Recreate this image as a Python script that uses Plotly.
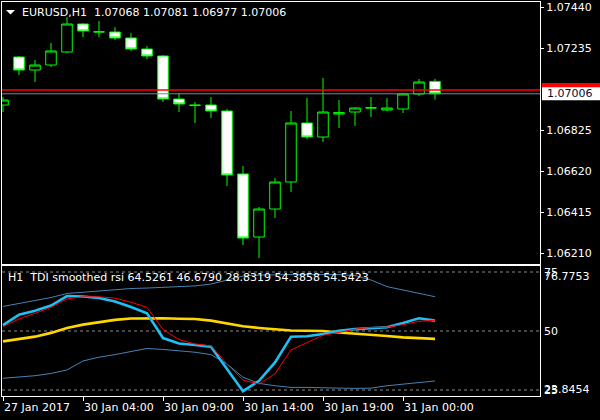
import plotly.graph_objects as go

# ---------------- data ----------------
bar_times = ["27 Jan 23:00"] + [f"30 Jan {h:02d}:00" for h in range(24)] + ["31 Jan 00:00", "31 Jan 01:00", "31 Jan 02:00"]
open_ = [1.06950, 1.07190, 1.07125, 1.07150, 1.07215, 1.07355, 1.07315, 1.07315, 1.07285, 1.07230,
         1.07195, 1.06980, 1.06950, 1.06950, 1.06920, 1.06605, 1.06290, 1.06430, 1.06565, 1.06860,
         1.06790, 1.06905, 1.06915, 1.06935, 1.06925, 1.06930, 1.07005, 1.07068]
high = [1.06990, 1.07195, 1.07175, 1.07260, 1.07390, 1.07360, 1.07370, 1.07340, 1.07310, 1.07245,
        1.07200, 1.07010, 1.06965, 1.06990, 1.06930, 1.06645, 1.06440, 1.06585, 1.06920, 1.06985,
        1.07085, 1.06975, 1.06940, 1.06990, 1.06985, 1.07010, 1.07080, 1.07081]
low = [1.06915, 1.07100, 1.07065, 1.07140, 1.07210, 1.07290, 1.07290, 1.07275, 1.07220, 1.07180,
       1.06965, 1.06915, 1.06860, 1.06885, 1.06545, 1.06250, 1.06185, 1.06385, 1.06515, 1.06780,
       1.06765, 1.06835, 1.06845, 1.06890, 1.06920, 1.06910, 1.06995, 1.06977]
close = [1.06975, 1.07125, 1.07150, 1.07220, 1.07355, 1.07320, 1.07316, 1.07285, 1.07230, 1.07195,
         1.06980, 1.06955, 1.06948, 1.06920, 1.06600, 1.06285, 1.06430, 1.06565, 1.06860, 1.06790,
         1.06915, 1.06912, 1.06935, 1.06936, 1.06935, 1.07005, 1.07065, 1.07006]

tdi_upper = [60.4, 61.7, 62.9, 64.2, 65.9, 66.5, 66.9, 67.4, 68.0, 68.2, 68.4, 68.6, 69.1, 69.9,
             71.6, 73.3, 73.7, 73.9, 73.9, 73.9, 73.9, 73.9, 73.5, 71.6, 68.8, 67.4, 66.0, 64.5261]
tdi_lower = [29.96, 30.5, 31.06, 32.0, 33.5, 37.3, 38.9, 40.0, 41.4, 42.6, 42.2, 41.7, 41.0, 40.0,
             36.0, 30.4, 27.8, 26.8, 26.1, 26.1, 26.1, 25.8, 25.7, 25.8, 26.8, 27.5, 28.1, 28.8319]
tdi_middle = [45.6, 46.5, 47.6, 49.2, 51.3, 52.7, 53.7, 54.7, 55.3, 55.4, 55.4, 55.2, 55.1, 54.4,
              53.3, 52.0, 51.3, 50.6, 50.2, 50.1, 50.0, 49.4, 49.0, 48.4, 47.9, 47.3, 46.9, 46.6790]
tdi_rsi = [52.5, 56.9, 58.6, 60.8, 64.8, 64.6, 64.0, 62.5, 60.2, 57.5, 47.0, 44.7, 44.1, 43.3,
           33.9, 24.5, 28.9, 36.7, 47.6, 47.8, 48.7, 50.1, 50.8, 51.3, 51.6, 53.4, 55.4, 54.3858]
tdi_signal = [51.8, 55.1, 57.5, 60.0, 63.6, 64.5, 64.5, 63.9, 62.2, 60.0, 50.6, 46.4, 44.5, 43.7,
              36.0, 29.2, 27.5, 31.9, 42.0, 45.1, 48.2, 49.4, 50.8, 51.5, 51.6, 52.7, 54.1, 54.5423]

price_ticks = [1.07440, 1.07235, 1.06825, 1.06620, 1.06415, 1.06210]
tdi_levels = [75, 50, 25]
tdi_max_label = "76.7753"
tdi_min_label = "23.8454"
time_tick_idx = [0, 5, 10, 15, 20, 25]
time_tick_labels = ["27 Jan 2017", "30 Jan 04:00", "30 Jan 09:00", "30 Jan 14:00", "30 Jan 19:00", "31 Jan 00:00"]
bid_price = 1.07006
red_line_price = 1.07025
header_text = "EURUSD,H1  1.07068 1.07081 1.06977 1.07006"
tdi_header = "H1  TDI smoothed rsi 64.5261 46.6790 28.8319 54.3858 54.5423"

# ---------------- figure ----------------
x = list(range(len(open_)))
FONT = "DejaVu Sans"
W, H = 600, 420
ML, MR, MT, MB = 2, 60, 2, 24
PW = W - ML - MR
PH = H - MT - MB

def px_x(p):
    return (p - ML) / PW

def px_y(p):
    return (H - MB - p) / PH

fig = go.Figure()

fig.add_trace(go.Candlestick(
    x=x, open=open_, high=high, low=low, close=close, text=bar_times,
    increasing=dict(line=dict(color="#00FF00", width=1), fillcolor="#000000"),
    decreasing=dict(line=dict(color="#00FF00", width=1), fillcolor="#FFFFFF"),
    whiskerwidth=0, xaxis="x", yaxis="y", showlegend=False, name="EURUSD,H1"))

band_col = "#4682B4"
fig.add_trace(go.Scatter(x=x, y=tdi_upper, mode="lines", line=dict(color=band_col, width=1),
                         xaxis="x2", yaxis="y2", showlegend=False))
fig.add_trace(go.Scatter(x=x, y=tdi_lower, mode="lines", line=dict(color=band_col, width=1),
                         xaxis="x2", yaxis="y2", showlegend=False))
fig.add_trace(go.Scatter(x=x, y=tdi_middle, mode="lines", line=dict(color="#FFD700", width=2.6),
                         xaxis="x2", yaxis="y2", showlegend=False))
fig.add_trace(go.Scatter(x=x, y=tdi_rsi, mode="lines", line=dict(color="#1EBFF5", width=2.6),
                         xaxis="x2", yaxis="y2", showlegend=False))
fig.add_trace(go.Scatter(x=x, y=tdi_signal, mode="lines", line=dict(color="#FF0000", width=1),
                         xaxis="x2", yaxis="y2", showlegend=False))

xr = [-(3 - ML) / 16.0, -(3 - ML) / 16.0 + PW / 16.0]
main_dom = [px_y(264), 1]
ind_dom = [0, px_y(266)]

axis_common = dict(showgrid=False, zeroline=False, showline=True, linecolor="#FFFFFF",
                   linewidth=1, mirror=True)

fig.update_layout(
    width=W, height=H,
    margin=dict(l=ML, r=MR, t=MT, b=MB),
    paper_bgcolor="#000000", plot_bgcolor="#000000",
    font=dict(family=FONT, size=11, color="#FFFFFF"),
    boxgap=0.34, boxgroupgap=0,
    xaxis=dict(domain=[0, 1], anchor="y", range=xr, showticklabels=False, ticks="",
               rangeslider=dict(visible=False), **axis_common),
    yaxis=dict(domain=main_dom, anchor="x", side="right",
               range=[1.07475 - 264 * 0.00005, 1.07475 - 2 * 0.00005],
               tickvals=price_ticks, ticktext=[f"{v:.5f}" for v in price_ticks],
               ticks="outside", ticklen=3, tickcolor="#FFFFFF",
               tickfont=dict(family=FONT, size=11, color="#FFFFFF"), **axis_common),
    xaxis2=dict(domain=[0, 1], anchor="y2", range=xr, showticklabels=False,
                tickvals=time_tick_idx, ticks="outside", ticklen=4, tickcolor="#FFFFFF",
                **axis_common),
    yaxis2=dict(domain=ind_dom, anchor="x2", side="right",
                range=[50 - 65 / 2.36, 50 + 65 / 2.36],
                showticklabels=False, ticks="", **axis_common),
    hovermode=False,
)

# level lines in TDI window
for lv in tdi_levels:
    fig.add_shape(type="line", xref="x2 domain", yref="y2", x0=0, x1=1, y0=lv, y1=lv,
                  line=dict(color="#8A8A8A", width=1, dash="3px,3px"), layer="below")

# bid line and red line
fig.add_shape(type="line", xref="x domain", yref="y", x0=0, x1=1, y0=bid_price, y1=bid_price,
              line=dict(color="#778899", width=1))
fig.add_shape(type="line", xref="x domain", yref="y", x0=0, x1=1, y0=red_line_price, y1=red_line_price,
              line=dict(color="#FF0000", width=1.6))

# price label boxes on the right scale
fig.add_shape(type="rect", xref="paper", yref="y", x0=px_x(542), x1=px_x(600),
              y0=1.07028 - 0.000325, y1=1.07028 + 0.000325,
              fillcolor="#FF0000", line=dict(width=0), layer="above")
fig.add_shape(type="rect", xref="paper", yref="y", x0=px_x(542), x1=px_x(600),
              y0=bid_price - 0.000325, y1=bid_price + 0.000325,
              fillcolor="#FFFFFF", line=dict(width=0), layer="above")
fig.add_annotation(xref="paper", yref="y", x=px_x(545), y=bid_price, text=f"{bid_price:.5f}",
                   showarrow=False, xanchor="left", yanchor="middle",
                   font=dict(family=FONT, size=11, color="#0A0A30"))

# header triangle and texts
fig.add_shape(type="path", xref="paper", yref="paper",
              path=f"M {px_x(6)} {px_y(10)} L {px_x(15)} {px_y(10)} L {px_x(10.5)} {px_y(14.5)} Z",
              fillcolor="#FFFFFF", line=dict(width=0))
fig.add_annotation(xref="paper", yref="paper", x=px_x(20), y=px_y(12.5), text=header_text,
                   showarrow=False, xanchor="left", yanchor="middle",
                   font=dict(family=FONT, size=11, color="#FFFFFF"))
fig.add_annotation(xref="paper", yref="paper", x=px_x(6), y=px_y(277), text=tdi_header,
                   showarrow=False, xanchor="left", yanchor="middle",
                   font=dict(family=FONT, size=11, color="#FFFFFF"))

# TDI scale labels (the window max/min labels overlap the 75/25 level labels, as in MT4)
for lv in tdi_levels:
    fig.add_annotation(xref="paper", yref="y2", x=px_x(542), y=lv, text=str(lv),
                       showarrow=False, xanchor="left", yanchor="middle",
                       font=dict(family=FONT, size=11, color="#FFFFFF"))
fig.add_annotation(xref="paper", yref="paper", x=px_x(542), y=px_y(276), text=tdi_max_label,
                   showarrow=False, xanchor="left", yanchor="middle",
                   font=dict(family=FONT, size=11, color="#FFFFFF"))
fig.add_annotation(xref="paper", yref="paper", x=px_x(542), y=px_y(389), text=tdi_min_label,
                   showarrow=False, xanchor="left", yanchor="middle",
                   font=dict(family=FONT, size=11, color="#FFFFFF"))

# time labels (left-aligned at their ticks)
for idx, lab in zip(time_tick_idx, time_tick_labels):
    fig.add_annotation(xref="x2", yref="paper", x=idx, y=0, text=lab, showarrow=False,
                       xanchor="left", yanchor="top", yshift=-3, xshift=-1,
                       font=dict(family=FONT, size=11, color="#FFFFFF"))

fig.write_html("out.html", config={"displayModeBar": False},
               post_script="document.body.style.margin='0px';")
